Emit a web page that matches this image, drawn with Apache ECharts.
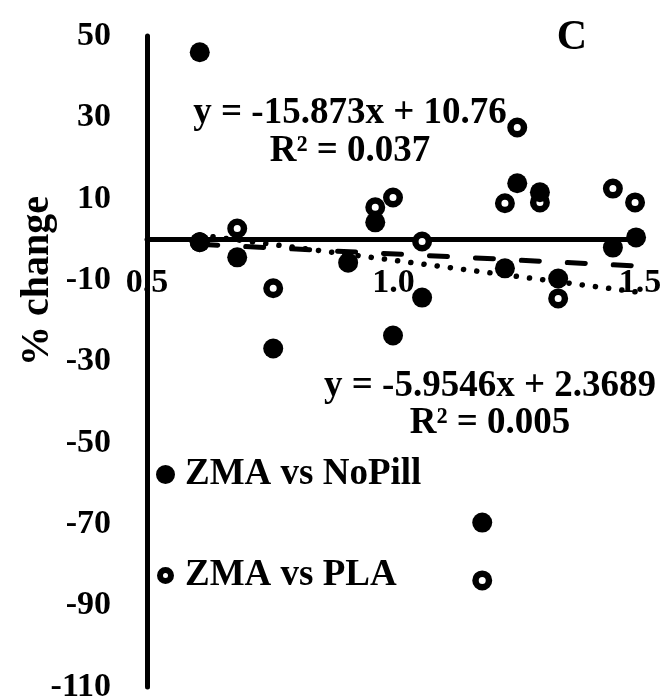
<!DOCTYPE html>
<html>
<head>
<meta charset="utf-8">
<script src="https://cdn.jsdelivr.net/npm/echarts@6/dist/echarts.min.js"></script>
<style>
html,body{margin:0;padding:0;background:#fff;}
#c{width:665px;height:700px;}
</style>
</head>
<body>
<div id="c"></div>
<script>
// ---- data ----
const noPillX = [0.607, 0.607, 0.683, 0.756, 0.908, 0.963, 0.999, 1.058, 1.180, 1.226, 1.251, 1.297, 1.334, 1.445, 1.492];
const noPillY = [46.0, -0.7, -4.4, -26.8, -5.7, 4.2, -23.6, -14.3, -69.6, -7.1, 13.8, 11.6, -9.6, -2.0, 0.5];
const plaX = [0.607, 0.683, 0.756, 0.963, 0.999, 1.058, 1.180, 1.226, 1.251, 1.297, 1.334, 1.445, 1.490];
const plaY = [-0.7, 2.7, -12.0, 7.9, 10.3, -0.5, -83.8, 8.9, 27.5, 9.1, -14.5, 12.5, 9.1];
const trendNoPillX = [0.607, 1.492];
const trendNoPillY = [1.1, -12.9];
const trendPlaX = [0.607, 1.490];
const trendPlaY = [-1.2, -6.5];
const xTickLabels = ['0.5', '1.0', '1.5'];
const seriesNames = ['ZMA vs NoPill', 'ZMA vs PLA'];
const eqNoPill = 'y = -15.873x + 10.76\nR\u00B2 = 0.037';
const eqPla = 'y = -5.9546x + 2.3689\nR\u00B2 = 0.005';
const yAxisTitle = '% change';
const panelLabel = 'C';

const pairs = (xs, ys) => xs.map((x, i) => [x, ys[i]]);
const FONT = '"Liberation Serif", "Times New Roman", serif';

const GRID_TOP = 36, GRID_BOTTOM = 13, H = 700;
const Y_MIN = -110, Y_MAX = 50;
const plotH = H - GRID_TOP - GRID_BOTTOM;
// move the x axis up to where y = 0 sits
const xAxisOffset = -(plotH * (0 - Y_MIN) / (Y_MAX - Y_MIN));

const chart = echarts.init(document.getElementById('c'), null, {renderer: 'canvas'});
const option = {
  animation: false,
  backgroundColor: '#fff',
  grid: {left: 147, right: 25, top: GRID_TOP, bottom: GRID_BOTTOM, containLabel: false, outerBoundsMode: 'none'},
  xAxis: {
    type: 'value', min: 0.5, max: 1.5, interval: 0.5, z: 0,
    position: 'bottom', offset: xAxisOffset,
    axisLine: {show: true, onZero: false, lineStyle: {color: '#000', width: 5}},
    axisTick: {show: false}, splitLine: {show: false},
    axisLabel: {
      show: true, color: '#000', fontFamily: FONT, fontWeight: 'bold', fontSize: 34, margin: 27,
      showMinLabel: true, showMaxLabel: true, hideOverlap: false,
      formatter: v => xTickLabels[Math.round((v - 0.5) / 0.5)] || ''
    }
  },
  yAxis: {
    type: 'value', min: Y_MIN, max: Y_MAX, interval: 10, z: 5,
    axisLine: {show: true, onZero: false, lineStyle: {color: '#000', width: 5}},
    axisTick: {show: false}, splitLine: {show: false},
    axisLabel: {
      color: '#000', fontFamily: FONT, fontWeight: 'bold', fontSize: 34, margin: 36,
      showMinLabel: true, showMaxLabel: true,
      formatter: v => (Math.round(v / 10) % 2 !== 0 ? String(v) : '')
    }
  },
  legend: {
    orient: 'vertical', left: 156, top: 456, padding: 0, itemWidth: 11, itemHeight: 11, itemGap: 64,
    selectedMode: false,
    textStyle: {color: '#000', fontFamily: FONT, fontWeight: 'bold', fontSize: 37, padding: [0, 0, 0, 9]},
    data: [
      {name: seriesNames[0], icon: 'circle', itemStyle: {color: '#000', borderColor: '#000', borderWidth: 8}},
      {name: seriesNames[1], icon: 'circle', itemStyle: {color: '#fff', borderColor: '#000', borderWidth: 6}}
    ]
  },
  series: [
    {
      name: seriesNames[1], type: 'scatter', symbol: 'circle', symbolSize: 13.5,
      itemStyle: {color: '#fff', borderColor: '#000', borderWidth: 6.5, opacity: 1},
      emphasis: {disabled: true}, z: 2,
      data: pairs(plaX, plaY)
    },
    {
      name: seriesNames[0], type: 'scatter', symbol: 'circle', symbolSize: 20,
      itemStyle: {color: '#000', opacity: 1},
      emphasis: {disabled: true}, z: 2,
      data: pairs(noPillX, noPillY)
    },
    {
      name: 'trend PLA', type: 'line', showSymbol: false, symbol: 'none', z: 3,
      lineStyle: {color: '#000', width: 5, type: [18, 28], cap: 'round'},
      emphasis: {disabled: true},
      data: pairs(trendPlaX, trendPlaY)
    },
    {
      name: 'trend NoPill', type: 'line', showSymbol: false, symbol: 'none', z: 3,
      lineStyle: {color: '#000', width: 5.5, type: [0.1, 13.2], cap: 'round'},
      emphasis: {disabled: true},
      data: pairs(trendNoPillX, trendNoPillY)
    }
  ],
  graphic: [
    {type: 'text', x: 38, y: 281, rotation: Math.PI / 2, z: 10,
     style: {text: yAxisTitle, font: 'bold 40px ' + FONT, fill: '#000', align: 'center', verticalAlign: 'middle', textAlign: 'center', textVerticalAlign: 'middle'}},
    {type: 'text', x: 350, y: 94, z: 10,
     style: {text: eqNoPill, font: 'bold 37px ' + FONT, fill: '#000', align: 'center', verticalAlign: 'top', textAlign: 'center', textVerticalAlign: 'top', lineHeight: 38}},
    {type: 'text', x: 490, y: 368, z: 10,
     style: {text: eqPla, font: 'bold 37px ' + FONT, fill: '#000', align: 'center', verticalAlign: 'top', textAlign: 'center', textVerticalAlign: 'top', lineHeight: 37}},
    {type: 'text', x: 572, y: 38, z: 10,
     style: {text: panelLabel, font: 'bold 42px ' + FONT, fill: '#000', align: 'center', verticalAlign: 'middle', textAlign: 'center', textVerticalAlign: 'middle'}}
  ]
};
chart.setOption(option);
</script>
</body>
</html>
